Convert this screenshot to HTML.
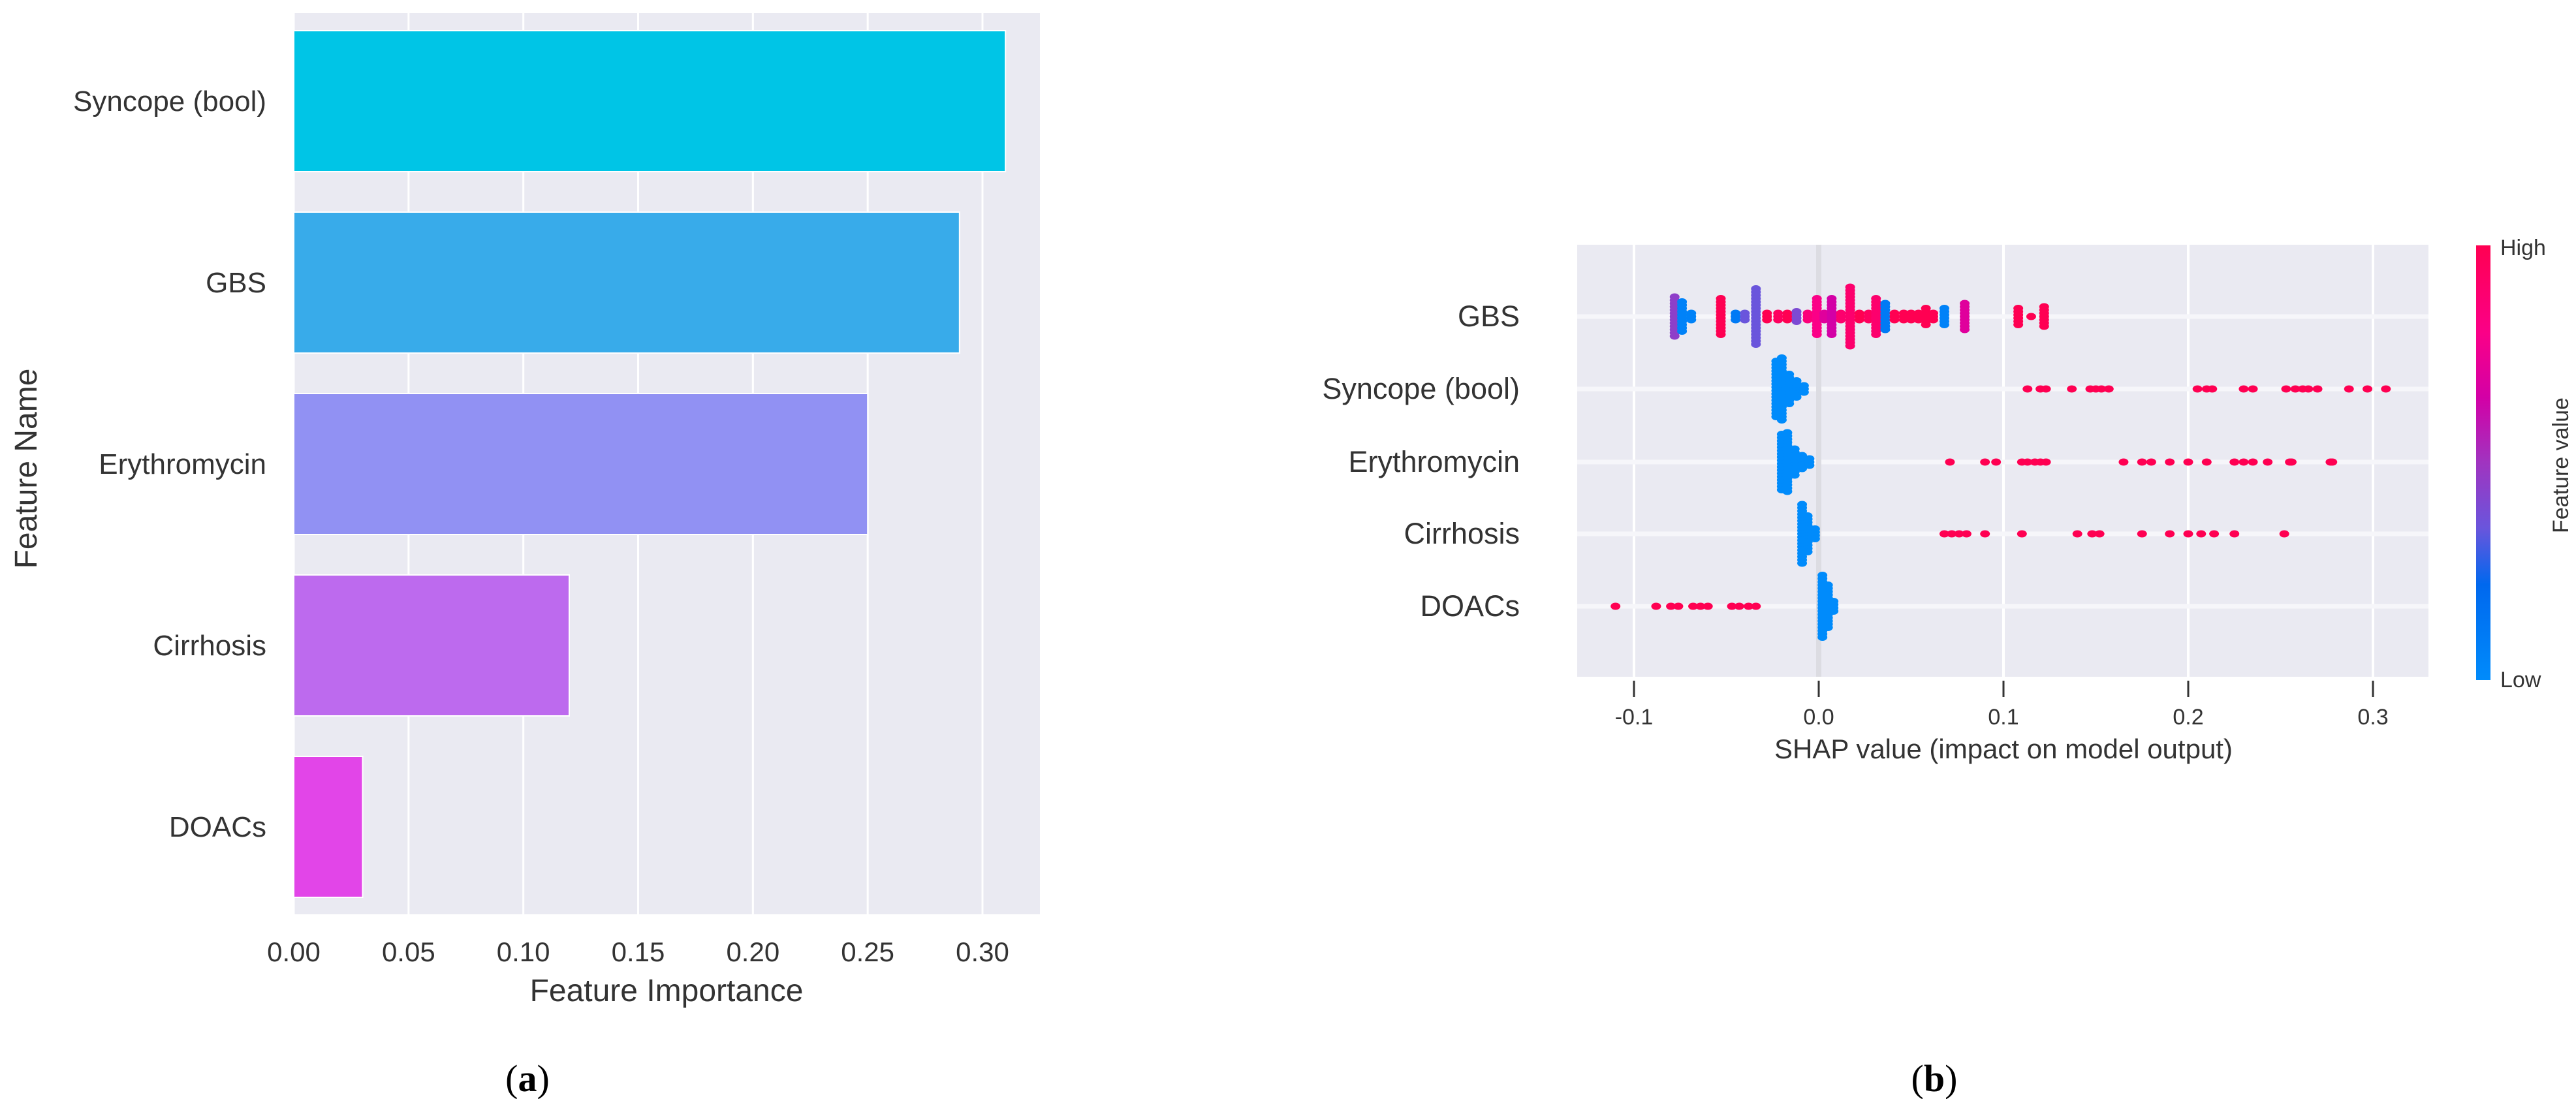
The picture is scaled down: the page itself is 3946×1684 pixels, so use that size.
<!DOCTYPE html>
<html><head><meta charset="utf-8">
<style>
html,body{margin:0;padding:0;background:#fff;}
svg{display:block;font-family:"Liberation Sans",Arial,sans-serif;}
</style></head>
<body>
<svg id="fig" width="3946" height="1684" viewBox="0 0 3946 1684" xmlns="http://www.w3.org/2000/svg">
<defs>
<linearGradient id="cbar" x1="0" y1="1" x2="0" y2="0">
<stop offset="0" stop-color="#008bfb"/>
<stop offset="0.22" stop-color="#0068ee"/>
<stop offset="0.35" stop-color="#6a55dc"/>
<stop offset="0.5" stop-color="#a034c0"/>
<stop offset="0.65" stop-color="#d300a6"/>
<stop offset="0.8" stop-color="#fb0087"/>
<stop offset="1" stop-color="#ff0052"/>
</linearGradient>
</defs>
<g id="chartA"></g>
<g id="chartB"></g>
<text x="808" y="1672" text-anchor="middle" font-family="Liberation Serif,serif" font-size="58" fill="#000">(<tspan font-weight="bold">a</tspan>)</text>
<text x="2963" y="1672" text-anchor="middle" font-family="Liberation Serif,serif" font-size="58" fill="#000">(<tspan font-weight="bold">b</tspan>)</text>
</svg>
<script>
// ---- Chart A data ----
const featA = ["Syncope (bool)","GBS","Erythromycin","Cirrhosis","DOACs"];
const importA = [0.31,0.29,0.25,0.12,0.03];
const colorsA = ["#00c5e6","#38abea","#9191f3","#bd6aee","#e245e8"];
const ticksA = [0,0.05,0.10,0.15,0.20,0.25,0.30];
const tickLabelsA = ["0.00","0.05","0.10","0.15","0.20","0.25","0.30"];

// ---- Chart B data ----
const featB = ["GBS","Syncope (bool)","Erythromycin","Cirrhosis","DOACs"];
const gbsVals   = [-0.078,-0.074,-0.069,-0.053,-0.045,-0.040,-0.034,-0.028,-0.022,-0.017,-0.012,-0.006,-0.001,0.003,0.007,0.012,0.017,0.022,0.027,0.031,0.036,0.041,0.046,0.050,0.054,0.058,0.062,0.068,0.079,0.108,0.115,0.122];
const gbsCounts = [13,10,3,12,3,3,18,3,3,3,4,3,12,3,12,3,19,3,3,12,9,3,3,3,3,6,3,6,9,6,1,7];
const gbsColors = [0.45,0.05,0.05,1,0.1,0.35,0.35,1,0.95,1,0.4,0.85,0.8,0.7,0.65,0.9,0.9,1,0.95,0.9,0.1,1,1,1,1,1,1,0.05,0.7,1,1,1];

const synVals   = [-0.023,-0.020,-0.016,-0.012,-0.008,0.113,0.120,0.123,0.137,0.147,0.150,0.153,0.157,0.205,0.210,0.213,0.230,0.235,0.253,0.258,0.262,0.265,0.270,0.287,0.297,0.307];
const synCounts = [18,20,10,6,3,1,1,1,1,1,1,1,1,1,1,1,1,1,1,1,1,1,1,1,1,1];
const synColors = [0,0,0,0,0,1,1,1,1,1,1,1,1,1,1,1,1,1,1,1,1,1,1,1,1,1];

const eryVals   = [-0.020,-0.017,-0.013,-0.009,-0.005,0.071,0.090,0.096,0.110,0.113,0.117,0.120,0.123,0.165,0.175,0.180,0.190,0.200,0.210,0.225,0.230,0.235,0.243,0.255,0.256,0.277,0.278];
const eryCounts = [18,19,9,5,3,1,1,1,1,1,1,1,1,1,1,1,1,1,1,1,1,1,1,1,1,1,1];
const eryColors = [0,0,0,0,0,1,1,1,1,1,1,1,1,1,1,1,1,1,1,1,1,1,1,1,1,1,1];

const cirVals   = [-0.009,-0.006,-0.002,0.068,0.072,0.076,0.080,0.090,0.110,0.140,0.148,0.152,0.175,0.190,0.200,0.207,0.214,0.225,0.252];
const cirCounts = [19,12,4,1,1,1,1,1,1,1,1,1,1,1,1,1,1,1,1];
const cirColors = [0,0,0,1,1,1,1,1,1,1,1,1,1,1,1,1,1,1,1];

const doaVals   = [-0.110,-0.088,-0.080,-0.076,-0.068,-0.064,-0.060,-0.047,-0.043,-0.038,-0.034,0.002,0.005,0.008];
const doaCounts = [1,1,1,1,1,1,1,1,1,1,1,20,14,4];
const doaColors = [1,1,1,1,1,1,1,1,1,1,1,0,0,0];

const ticksB = [-0.1,0,0.1,0.2,0.3];
const tickLabelsB = ["-0.1","0.0","0.1","0.2","0.3"];

const NS = "http://www.w3.org/2000/svg";
function mk(parent, tag, attrs, text){
  const e = document.createElementNS(NS, tag);
  for (const k in attrs) e.setAttribute(k, attrs[k]);
  if (text !== undefined) e.textContent = text;
  parent.appendChild(e);
  return e;
}

// ===== Chart A =====
(function(){
  const g = document.getElementById("chartA");
  const L=450, R=1593, T=20, B=1401;
  const xA = v => L + v*(1505-450)/0.30;
  const pitch = 278, barH = 216, first = 47;
  const bg = mk(g,"rect",{x:L,y:T,width:R-L,height:B-T,fill:"#eaeaf2"});
  
  
  ticksA.forEach((t,i)=>{
    const x = xA(t);
    const gl = mk(g,"line",{x1:x,x2:x,y1:T,y2:B,stroke:"#ffffff","stroke-width":3});
    
    
    const tl = mk(g,"text",{x:x,y:1473,"text-anchor":"middle","font-size":42,fill:"#333"},tickLabelsA[i]);
    
    
  });
  featA.forEach((f,i)=>{
    const y = first + i*pitch;
    const r = mk(g,"rect",{x:L,y:y,width:xA(importA[i])-L,height:barH,fill:colorsA[i],stroke:"#fff","stroke-width":2});
    
    
    const tl = mk(g,"text",{x:408,y:y+barH/2+15,"text-anchor":"end","font-size":44,fill:"#333"},f);
    
    
  });
  const xt = mk(g,"text",{x:1021,y:1534,"text-anchor":"middle","font-size":48,fill:"#333"},"Feature Importance");
  
  
  const yt = mk(g,"text",{x:0,y:0,"text-anchor":"middle","font-size":48,fill:"#333",transform:"translate(56,718) rotate(-90)"},"Feature Name");
  
  
})();

// ===== Chart B =====
(function(){
  const g = document.getElementById("chartB");
  const L=2416, R=3720, T=375, B=1037;
  const xB = v => 2786 + v*283/0.1;
  const rowY = [485,596,708,818,929];
  const bg = mk(g,"rect",{x:L,y:T,width:R-L,height:B-T,fill:"#eaeaf2"});
  
  
  ticksB.forEach((t,i)=>{
    const x = xB(t);
    const gl = mk(g,"line",{x1:x,x2:x,y1:T,y2:B,stroke:"#ffffff","stroke-width":4});
    
    
    const tk = mk(g,"line",{x1:x,x2:x,y1:1043,y2:1068,stroke:"#333","stroke-width":3});
    
    
    const tl = mk(g,"text",{x:x,y:1110,"text-anchor":"middle","font-size":34,fill:"#333"},tickLabelsB[i]);
    
    
  });
  rowY.forEach(y=>{
    const hl = mk(g,"line",{x1:L,x2:R,y1:y,y2:y,stroke:"#f6f6fa","stroke-width":7});
    
    
  });
  const zl = mk(g,"rect",{x:xB(0)-4,y:T,width:8,height:B-T,fill:"#dcdce2"});
  
  

  function col(c){
    const stops=[[0,[0,139,251]],[0.2,[0,104,238]],[0.35,[106,85,220]],[0.5,[160,52,192]],[0.65,[211,0,166]],[0.8,[251,0,135]],[1,[255,0,82]]];
    for(let i=1;i<stops.length;i++){
      if(c<=stops[i][0]){
        const a=stops[i-1],b=stops[i],f=(c-a[0])/(b[0]-a[0]);
        return "rgb("+a[1].map((v,k)=>Math.round(v+(b[1][k]-v)*f)).join(",")+")";
      }
    }
    return "rgb(255,0,82)";
  }
  const rows = [[gbsVals,gbsCounts,gbsColors],[synVals,synCounts,synColors],[eryVals,eryCounts,eryColors],[cirVals,cirCounts,cirColors],[doaVals,doaCounts,doaColors]];
  rows.forEach((r,ri)=>{
    const [vals,counts,cols] = r;
    vals.forEach((v,i)=>{
      const n = counts[i];
      for(let k=0;k<n;k++){
        const off = (k - (n-1)/2) * 5;
        const e = mk(g,"ellipse",{cx:xB(v),cy:rowY[ri]+off,rx:7.5,ry:5.5,fill:col(cols[i])});
        
        
      }
    });
    const tl = mk(g,"text",{x:2328,y:rowY[ri]+15,"text-anchor":"end","font-size":45,fill:"#333"},featB[ri]);
    
    
  });
  const xt = mk(g,"text",{x:3069,y:1162,"text-anchor":"middle","font-size":42,fill:"#333"},"SHAP value (impact on model output)");
  
  
  const cb = mk(g,"rect",{x:3793,y:376,width:22,height:666,fill:"url(#cbar)"});
  
  
  const hi = mk(g,"text",{x:3830,y:391,"font-size":34,fill:"#333"},"High");
  
  
  const lo = mk(g,"text",{x:3830,y:1053,"font-size":34,fill:"#333"},"Low");
  
  
  const ft = mk(g,"text",{x:0,y:0,"text-anchor":"middle","font-size":34,fill:"#333",transform:"translate(3934,713) rotate(-90)"},"Feature value");
  
  
})();
</script>
</body></html>
